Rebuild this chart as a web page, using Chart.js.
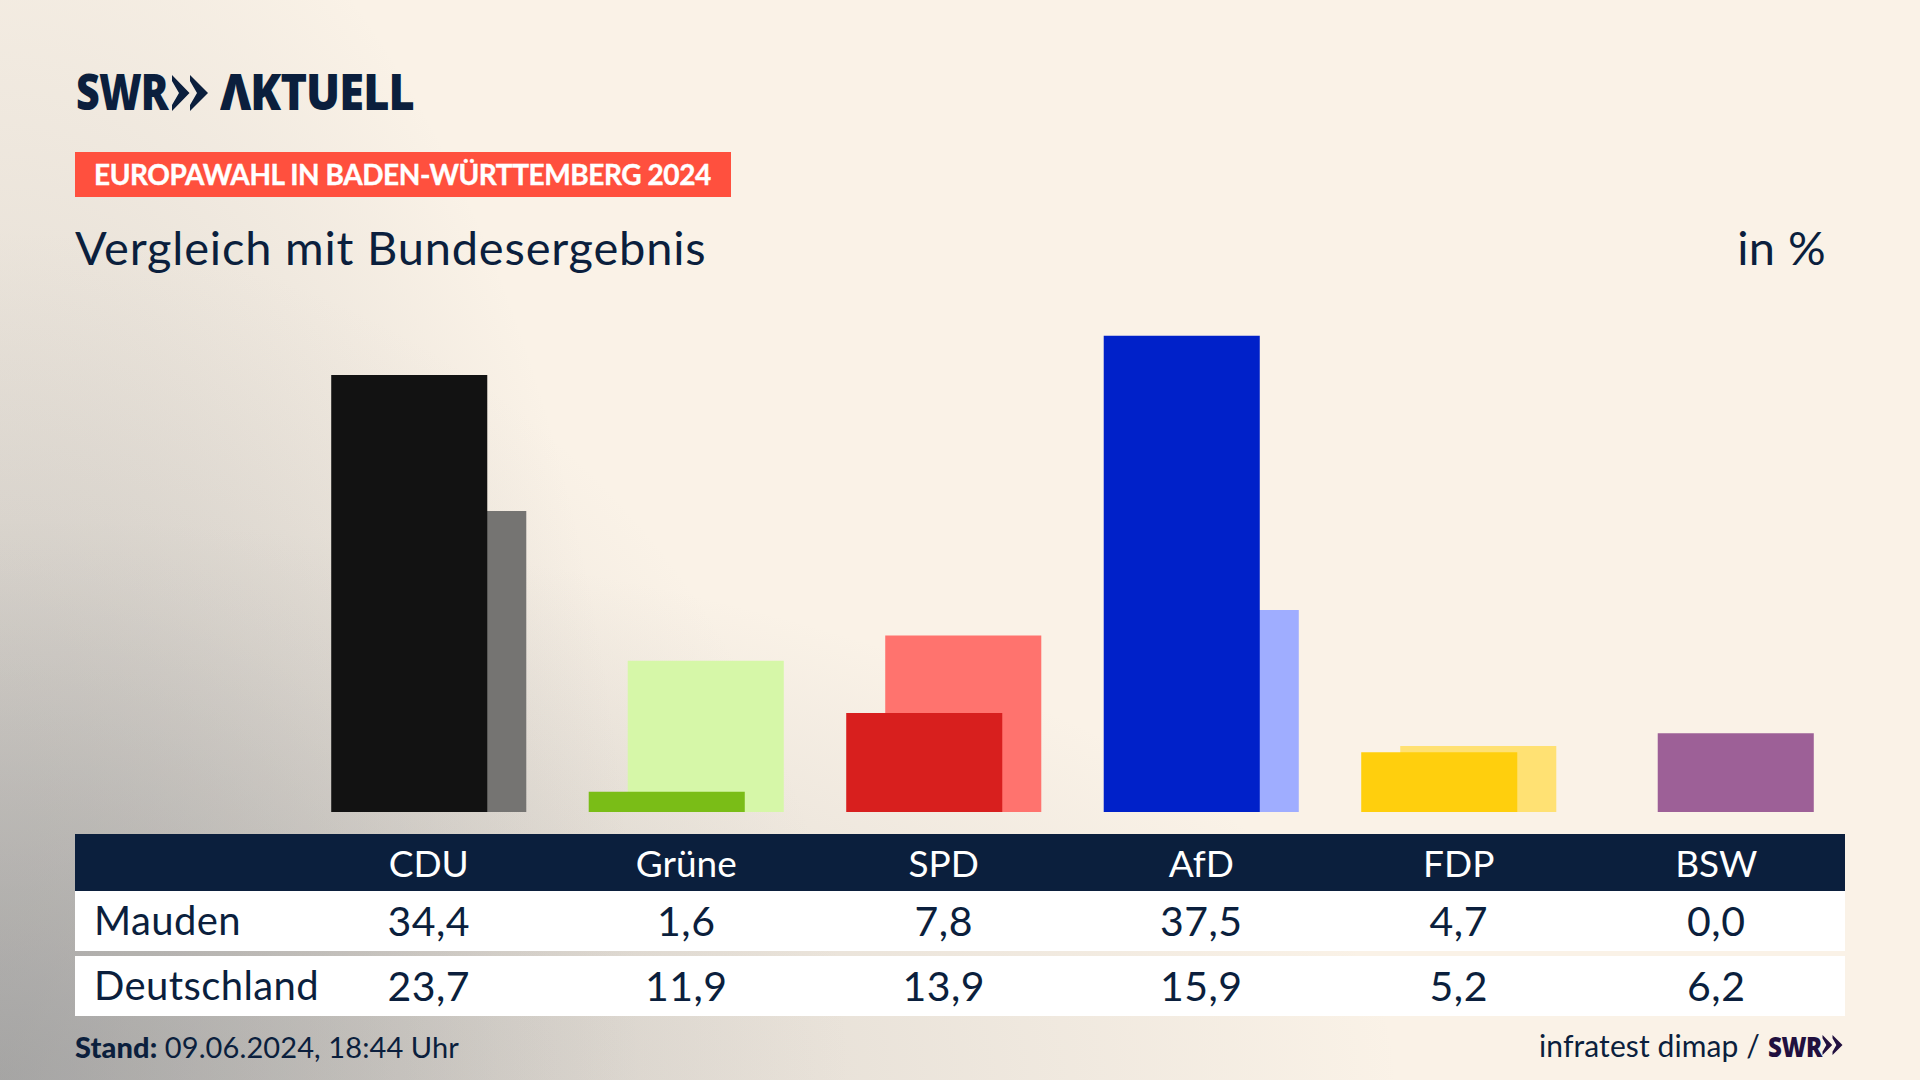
<!DOCTYPE html>
<html lang="de">
<head>
<meta charset="utf-8">
<title>Europawahl Mauden</title>
<script src="https://cdn.jsdelivr.net/npm/chart.js@4"></script>
<style>
html, body { margin: 0; padding: 0; }
body {
    width: 1920px; height: 1080px; position: relative; overflow: hidden;
    color: #0b1f3d; font-family: Lato, sans-serif;
    background-color: #faf2e7;
    background-image:
        radial-gradient(circle 850px at 0 1080px, rgba(140,142,145,.42) 0, rgba(165,165,165,.17) 60%, rgba(165,165,165,0) 100%),
        radial-gradient(ellipse 640px 1300px at 0 1080px, rgba(150,150,150,.42) 0, rgba(150,150,150,0) 100%),
        radial-gradient(ellipse 1400px 560px at 0 1080px, rgba(150,150,150,.42) 0, rgba(150,150,150,0) 100%);
}
.abs { position: absolute; white-space: nowrap; }
#chartBox { position: absolute; left: 300px; top: 304px; width: 1545px; height: 508px; }
.logoText { font: 800 49px "Open Sans", sans-serif; line-height: 49px; transform-origin: left top; }
#logoA { left: 76px; top: 67px; letter-spacing: -1px; transform: scaleX(0.84); }
#logoB { left: 172px; top: 75px; }
#logoC { left: 220px; top: 67px; letter-spacing: -1px; transform: scaleX(0.92); }
#tag { left: 75px; top: 152px; width: 656px; height: 45px; background: #ff503e; }
#tagText { left: 94px; top: 157px; font: 700 28px Lato, sans-serif; color: #fff; letter-spacing: -0.43px; -webkit-text-stroke: 0.4px #fff; }
#subtitle { left: 75px; top: 219px; font: 400 47px Lato, sans-serif; letter-spacing: 0.8px; }
#unit { right: 94px; top: 219px; font: 400 47px Lato, sans-serif; letter-spacing: 0.4px; }
#head { left: 75px; top: 834px; width: 1770px; height: 57px; background: #0b1f3d; }
.row { left: 75px; width: 1770px; height: 60px; background: #fff; }
.cell { transform: translateX(-50%); }
.headCell { font: 400 37px Lato, sans-serif; color: #fff; }
.valueCell { font: 400 41px Lato, sans-serif; letter-spacing: 0.5px; }
.name { left: 94px; font: 400 40px Lato, sans-serif; letter-spacing: 0.4px; }
#stand { left: 75px; top: 1029px; font: 400 29px Lato, sans-serif; letter-spacing: 0.1px; }
#stand b { font-weight: 900; }
#source { left: 1539px; top: 1027px; font: 400 30px Lato, sans-serif; letter-spacing: 0.1px; }
#srcLogo { left: 1768px; top: 1029px; font: 800 28px "Open Sans", sans-serif; line-height: 34px; color: #21103f; letter-spacing: -0.5px; transform: scaleX(0.86); transform-origin: left top; }
#srcChev { left: 1822px; top: 1035px; }
</style>
</head>
<body>
<div class="abs logoText" id="logoA">SWR</div>
<svg class="abs" id="logoB" width="36" height="36" viewBox="0 0 36 36"><path d="M0 0 L17.5 18 L0 36 L0 30 L7 18 L0 6 Z M18 0 L36 18 L18 36 L18 30 L25 18 L18 6 Z" fill="#0b1f3d"/></svg>
<div class="abs logoText" id="logoC">ΛKTUELL</div>
<div class="abs" id="tag"></div>
<div class="abs" id="tagText">EUROPAWAHL IN BADEN-WÜRTTEMBERG 2024</div>
<div class="abs" id="subtitle">Vergleich mit Bundesergebnis</div>
<div class="abs" id="unit">in %</div>
<div id="chartBox"><canvas id="barChart"></canvas></div>
<div class="abs" id="head"></div>
<div class="abs row" style="top:891px"></div>
<div class="abs row" style="top:956px"></div>
<div id="cells"></div>
<div class="abs" id="stand"><b>Stand:</b> 09.06.2024, 18:44 Uhr</div>
<div class="abs" id="source">infratest dimap /</div>
<div class="abs" id="srcLogo">SWR</div>
<svg class="abs" id="srcChev" width="21" height="20" viewBox="0 0 36 36"><path d="M0 0 L17.5 18 L0 36 L0 30 L7 18 L0 6 Z M18 0 L36 18 L18 36 L18 30 L25 18 L18 6 Z" fill="#21103f"/></svg>
<script>
const parties = ['CDU', 'Grüne', 'SPD', 'AfD', 'FDP', 'BSW'];
const mauden = [34.4, 1.6, 7.8, 37.5, 4.7, 0.0];
const deutschland = [23.7, 11.9, 13.9, 15.9, 5.2, 6.2];
const mainColors = ['#121212', '#7abd17', '#d81f1e', '#0021c9', '#ffcf0d', '#9d6097'];
const lightColors = ['#757472', '#d6f7a8', '#ff736e', '#9fadff', '#ffe173', '#9d6097'];

const chart = new Chart(document.getElementById('barChart'), {
    type: 'bar',
    data: {
        labels: parties,
        datasets: [
            { label: 'Mauden', data: mauden, backgroundColor: mainColors, borderWidth: 0 },
            { label: 'Deutschland', data: deutschland, backgroundColor: lightColors, borderWidth: 0 }
        ]
    },
    options: {
        responsive: true,
        maintainAspectRatio: false,
        animation: false,
        // bars overlap: the slot is 39px, the bar 156px
        categoryPercentage: 0.303,
        barPercentage: 4.0,
        scales: {
            x: { display: false },
            y: { display: false, min: 0, max: 40 }
        },
        plugins: { legend: { display: false }, tooltip: { enabled: false } }
    }
});

// table under the chart, columns follow the x scale
function fmt(v) { return v.toFixed(1).replace('.', ','); }
function addCell(text, x, top, cls) {
    const d = document.createElement('div');
    d.className = 'abs cell ' + cls;
    d.textContent = text;
    d.style.left = x + 'px';
    d.style.top = top + 'px';
    document.getElementById('cells').appendChild(d);
}
function addName(text, top) {
    const d = document.createElement('div');
    d.className = 'abs name';
    d.textContent = text;
    d.style.top = top + 'px';
    document.getElementById('cells').appendChild(d);
}
addName('Mauden', 896);
addName('Deutschland', 961);
parties.forEach((p, i) => {
    const x = 300 + chart.scales.x.getPixelForValue(i);
    addCell(p, x, 840, 'headCell');
    addCell(fmt(mauden[i]), x, 896, 'valueCell');
    addCell(fmt(deutschland[i]), x, 961, 'valueCell');
});
</script>
</body>
</html>
